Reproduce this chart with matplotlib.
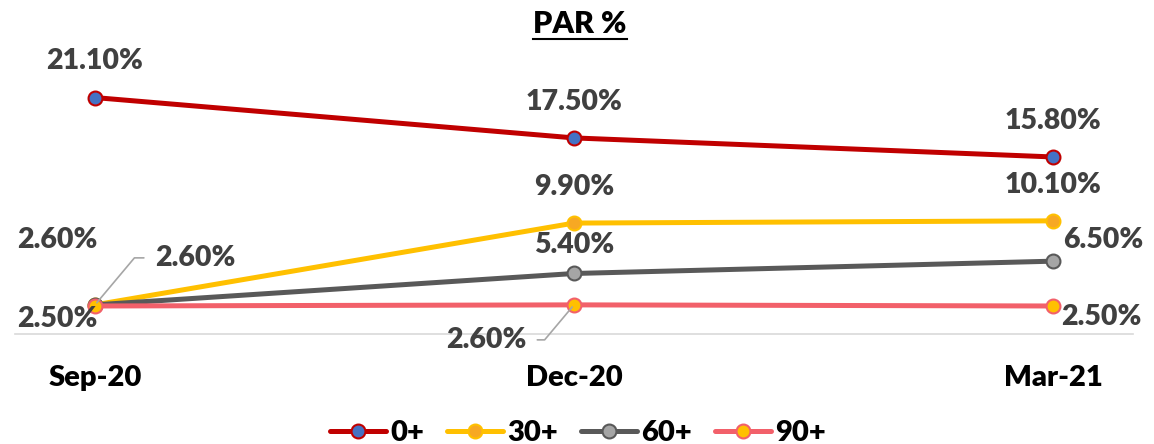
import matplotlib.pyplot as plt
from matplotlib.lines import Line2D

plt.rcParams['font.family'] = ['Lato', 'DejaVu Sans']
plt.rcParams['font.weight'] = 'heavy'

quarters = ['Sep-20', 'Dec-20', 'Mar-21']
par_0 = [21.1, 17.5, 15.8]
par_30 = [2.6, 9.9, 10.1]
par_60 = [2.6, 5.4, 6.5]
par_90 = [2.5, 2.6, 2.5]

series = [
    ('0+', par_0, '#C00000', '#4472C4'),
    ('30+', par_30, '#FFC000', '#F7A823'),
    ('60+', par_60, '#595959', '#A5A5A5'),
    ('90+', par_90, '#F2606A', '#FFC000'),
]

# label offsets in pixels (dx, dy, ha), one per point
offsets = {
    '0+': [(0, 37, 'center'), (0, 36, 'center'), (0, 36, 'center')],
    '30+': [(-38, 65, 'center'), (0, 36, 'center'), (0, 36, 'center')],
    '60+': [(60, 47, 'left'), (0, 28, 'center'), (50, 21, 'center')],
    '90+': [(-38, -13, 'center'), (-88, -35, 'center'), (48, -11, 'center')],
}
# labels hooked to their point with a leader line
leaders = {('60+', 0): 0, ('90+', 1): 1}

fig = plt.figure(figsize=(11.54, 4.44), dpi=100)
ax = fig.add_axes([15 / 1154, 110 / 444, 1118 / 1154, 279 / 444])

x = list(range(len(quarters)))
for name, vals, lc, fc in series:
    ax.plot(x, vals, color=lc, lw=3.6, marker='o', ms=10, mfc=fc, mec=lc,
            mew=1.5, label=name, solid_capstyle='round', zorder=3)

for name, vals, lc, fc in series:
    for i, v in enumerate(vals):
        dx, dy, ha = offsets[name][i]
        kw = {}
        if (name, i) in leaders:
            kw['arrowprops'] = dict(arrowstyle='-', color='#A6A6A6', lw=1.2,
                                    relpos=(leaders[(name, i)], 0.5), shrinkA=6, shrinkB=2,
                                    connectionstyle='angle,angleA=0,angleB=50,rad=0')
        ax.annotate(f'{v:.2f}%', (i, v), xytext=(dx, dy), textcoords='offset pixels',
                    ha=ha, va='center', fontsize=20.5, color='#404040', zorder=4, **kw)

ax.set_xlim(-0.167, 2.167)
ax.set_ylim(0, 24.9)
ax.set_xticks(x)
ax.set_xticklabels(quarters, fontsize=21, color='black')
ax.tick_params(axis='x', length=0, pad=22)
ax.set_yticks([])
for s in ['top', 'right', 'left']:
    ax.spines[s].set_visible(False)
ax.spines['bottom'].set_color('#D9D9D9')
ax.spines['bottom'].set_linewidth(1.2)

ax.legend(loc='center', bbox_to_anchor=(578 / 1154, 1 - 433 / 444),
          bbox_transform=fig.transFigure, ncol=4, frameon=False,
          handlelength=1.9, columnspacing=0.8, handletextpad=0.15,
          prop={'weight': 'heavy', 'size': 21})

title = fig.text(580 / 1154, 1 - 24 / 444, 'PAR %', ha='center', va='center',
                 fontsize=22, color='black')
fig.canvas.draw()
bb = title.get_window_extent()
fig.add_artist(Line2D([bb.x0, bb.x1], [bb.y0 - 1, bb.y0 - 1], color='black', lw=1.5,
                      transform=None))

fig.savefig('out.png', dpi=100)
